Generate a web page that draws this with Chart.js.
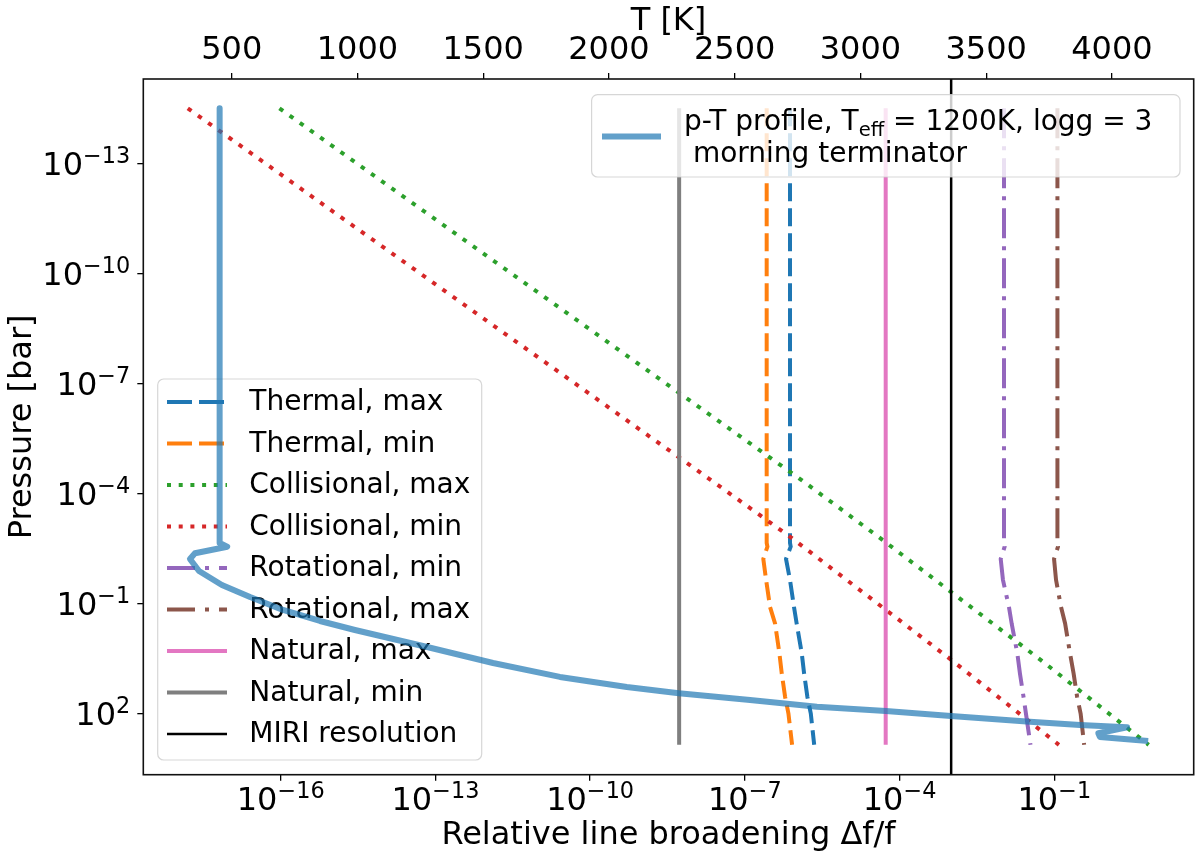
<!DOCTYPE html>
<html>
<head>
<meta charset="utf-8">
<script src="https://cdn.jsdelivr.net/npm/chart.js@4.4.1/dist/chart.umd.min.js"></script>
<style>
html,body{margin:0;padding:0;background:#fff;}
canvas{display:block;}
</style>
</head>
<body>
<canvas id="c" width="1200" height="862"></canvas>
<script>
// ---------------- data ----------------
// p-T profile (top axis, temperature in K) vs pressure in bar
const pProfile = [3.16e-15, 2.26e-3, 2.86e-3, 4.33e-3, 6.19e-3, 0.0132, 0.0317, 0.0673, 0.152, 0.304, 0.535, 1.56, 4.25, 10.2, 19.2, 28.5, 43.4, 66.1, 86.5, 119, 169, 208, 241, 351, 443, 569];
const tProfile = [452, 452, 482, 354, 334, 370, 461, 573, 704, 851, 990, 1277, 1539, 1805, 2071, 2278, 2561, 2827, 3101, 3360, 3674, 3873, 4060, 3946, 3952, 4144];

// broadening curves (relative line broadening) on a shared pressure grid
const pLines = [3.16e-15, 2.26e-3, 2.86e-3, 6.19e-3, 0.0229, 0.126, 0.355, 2.34, 8.3, 35.5, 102, 724];
const thermalMax = [7.50e-7, 7.50e-7, 7.74e-7, 6.28e-7, 7.50e-7, 8.97e-7, 1.01e-6, 1.27e-6, 1.41e-6, 1.63e-6, 1.90e-6, 2.21e-6];
const thermalMin = [2.65e-7, 2.65e-7, 2.74e-7, 2.28e-7, 2.58e-7, 3.08e-7, 3.85e-7, 4.68e-7, 5.20e-7, 6.03e-7, 7.00e-7, 8.24e-7];
const rotationalMin = [1.06e-2, 1.06e-2, 1.09e-2, 9.14e-3, 1.01e-2, 1.32e-2, 1.49e-2, 1.92e-2, 2.16e-2, 2.53e-2, 2.82e-2, 3.45e-2];
const rotationalMax = [0.115, 0.115, 0.118, 0.0989, 0.108, 0.135, 0.162, 0.202, 0.237, 0.277, 0.324, 0.379];

// collisional broadening
const pColl = [3.16e-15, 4.37e-5, 1.70e-3, 3.55, 724];
const collisionalMax = [9.46e-17, 1.26e-6, 4.27e-5, 0.055, 6.76];
const collisionalMin = [1.58e-18, 2.20e-8, 8.32e-7, 1.02e-3, 0.123];

// natural broadening
const pNatural = [3.16e-15, 724];
const naturalMax = [5.38e-5, 5.38e-5];
const naturalMin = [5.32e-9, 5.32e-9];

// MIRI resolution (vertical line across the whole axis)
const pMiri = [1e-17, 1e5];
const miriResolution = [1e-3, 1e-3];

// ticks
const xTickExp = [-16, -13, -10, -7, -4, -1];
const yTickExp = [-13, -10, -7, -4, -1, 2];
const tTicks = [500, 1000, 1500, 2000, 2500, 3000, 3500, 4000];

const profileLabel1a = 'p-T profile, T';
const profileLabelSub = 'eff';
const profileLabel1b = ' = 1200K, logg = 3';
const profileLabel2 = ' morning terminator';

// ---------------- helpers ----------------
const FONT = '"DejaVu Sans", sans-serif';
const pts = (xs, ps) => xs.map((v, i) => ({x: v, y: ps[i]}));
const expOf = v => Math.round(Math.log10(v));
const powText = v => '10^' + expOf(v);

const DASH = [18, 7], DOT = [4.5, 8], DASHDOT = [30, 8, 4, 8];
const LDASH = [25, 7], LDOT = [4, 7.7], LDASHDOT = [28, 10, 4, 10];

function line(label, xs, ps, color, width, dash, legendDash){
  return {label, data: pts(xs, ps), borderColor: color, borderWidth: width,
    borderDash: dash || [], legendDash: legendDash || [], showLine: true, pointRadius: 0,
    pointHoverRadius: 0, fill: false, tension: 0, borderCapStyle: 'butt', borderJoinStyle: 'miter',
    xAxisID: 'x', yAxisID: 'y'};
}

const profile = {
  label: 'p-T profile', data: pts(tProfile, pProfile), borderColor: 'rgba(31,119,180,0.7)',
  borderWidth: 6, showLine: true, pointRadius: 0, pointHoverRadius: 0, fill: false, tension: 0,
  borderJoinStyle: 'round', borderCapStyle: 'butt', xAxisID: 'xT', yAxisID: 'y'
};

const datasets = [
  profile,
  line('MIRI resolution', miriResolution, pMiri, '#000000', 2.5, [], []),
  line('Natural, min', naturalMin, pNatural, '#7f7f7f', 4, [], []),
  line('Natural, max', naturalMax, pNatural, '#e377c2', 4, [], []),
  line('Rotational, max', rotationalMax, pLines, '#8c564b', 4, DASHDOT, LDASHDOT),
  line('Rotational, min', rotationalMin, pLines, '#9467bd', 4, DASHDOT, LDASHDOT),
  line('Collisional, min', collisionalMin, pColl, '#d62728', 4, DOT, LDOT),
  line('Collisional, max', collisionalMax, pColl, '#2ca02c', 4, DOT, LDOT),
  line('Thermal, min', thermalMin, pLines, '#ff7f0e', 4, DASH, LDASH),
  line('Thermal, max', thermalMax, pLines, '#1f77b4', 4, DASH, LDASH)
];

function roundRect(ctx, x, y, w, h, r){
  ctx.beginPath();
  ctx.moveTo(x + r, y);
  ctx.arcTo(x + w, y, x + w, y + h, r);
  ctx.arcTo(x + w, y + h, x, y + h, r);
  ctx.arcTo(x, y + h, x, y, r);
  ctx.arcTo(x, y, x + w, y, r);
  ctx.closePath();
}
function legendBox(ctx, x, y, w, h){
  ctx.save();
  roundRect(ctx, x, y, w, h, 6);
  ctx.fillStyle = 'rgba(255,255,255,0.8)';
  ctx.fill();
  ctx.lineWidth = 1.2;
  ctx.strokeStyle = 'rgba(204,204,204,0.8)';
  ctx.stroke();
  ctx.restore();
}
function handle(ctx, x1, x2, y, color, w, dash){
  ctx.save();
  ctx.strokeStyle = color; ctx.lineWidth = w; ctx.setLineDash(dash || []); ctx.lineCap = 'butt';
  ctx.beginPath(); ctx.moveTo(x1, y); ctx.lineTo(x2, y); ctx.stroke();
  ctx.restore();
}

function drawLowerLegend(chart){
  const ctx = chart.ctx;
  legendBox(ctx, 157.7, 379, 324, 381);
  const items = chart.data.datasets.slice(1).reverse();
  ctx.save();
  ctx.font = '28px ' + FONT;
  ctx.textBaseline = 'middle';
  ctx.textAlign = 'left';
  items.forEach((d, i) => {
    const y = 402 + i * 41.5;
    handle(ctx, 167, 227, y, d.borderColor, d.borderWidth, d.legendDash);
    ctx.fillStyle = '#000';
    ctx.fillText(d.label, 249.3, y + 1);
  });
  ctx.restore();
}

function drawUpperLegend(chart){
  const ctx = chart.ctx;
  legendBox(ctx, 591.6, 94.6, 588.4, 82.4);
  handle(ctx, 602, 661, 136.5, 'rgba(31,119,180,0.7)', 6, []);
  ctx.save();
  ctx.fillStyle = '#000';
  ctx.textAlign = 'left';
  ctx.textBaseline = 'alphabetic';
  ctx.font = '28px ' + FONT;
  let x = 684, base = 130;
  ctx.fillText(profileLabel1a, x, base);
  x += ctx.measureText(profileLabel1a).width;
  ctx.font = '19.6px ' + FONT;
  ctx.fillText(profileLabelSub, x, base + 6);
  x += ctx.measureText(profileLabelSub).width;
  ctx.font = '28px ' + FONT;
  ctx.fillText(profileLabel1b, x, base);
  ctx.fillText(profileLabel2, 684, 162);
  ctx.restore();
}

function drawFrame(chart){
  const {ctx, chartArea: a} = chart;
  ctx.save();
  ctx.strokeStyle = '#111';
  ctx.lineWidth = 1.6;
  ctx.strokeRect(a.left, a.top, a.right - a.left, a.bottom - a.top);
  ctx.restore();
}

// power-of-ten tick labels, mathtext style: "10" with a raised, smaller exponent
function drawPow(ctx, x, baseY, exp, align){
  const base = '10', sup = String(exp).replace('-', '\u2212');
  ctx.font = '32px ' + FONT; const wb = ctx.measureText(base).width;
  ctx.font = '22.4px ' + FONT; const ws = ctx.measureText(sup).width;
  const total = wb + ws;
  const x0 = align === 'right' ? x - total : x - total / 2;
  ctx.font = '32px ' + FONT; ctx.fillText(base, x0, baseY);
  ctx.font = '22.4px ' + FONT; ctx.fillText(sup, x0 + wb, baseY - 11.7);
}
function drawTickLabels(chart){
  const {ctx, chartArea: a} = chart;
  ctx.save();
  ctx.fillStyle = '#000';
  ctx.textBaseline = 'alphabetic';
  ctx.textAlign = 'left';
  const sx = chart.scales.x, sy = chart.scales.y;
  sx.ticks.forEach(t => drawPow(ctx, sx.getPixelForValue(t.value), a.bottom + 35.3, expOf(t.value), 'center'));
  sy.ticks.forEach(t => drawPow(ctx, a.left - 13, sy.getPixelForValue(t.value) + 11.7, expOf(t.value), 'right'));
  ctx.restore();
}

const overlay = {
  id: 'overlay',
  beforeDatasetDraw(chart, args){
    if (args.index === 0) drawLowerLegend(chart);
  },
  afterDraw(chart){
    drawFrame(chart);
    drawTickLabels(chart);
    drawUpperLegend(chart);
  }
};

const tickFont = {family: FONT, size: 32, lineHeight: 1};
const gridOpts = {display: true, drawOnChartArea: false, drawTicks: true, tickLength: 6, tickWidth: 1.3, lineWidth: 1.3, color: '#000', tickColor: '#000'};

new Chart(document.getElementById('c'), {
  type: 'scatter',
  data: {datasets},
  plugins: [overlay],
  options: {
    responsive: false,
    animation: false,
    devicePixelRatio: 1,
    layout: {padding: {left: 0, right: 6.3, top: 0, bottom: 0}},
    plugins: {legend: {display: false}, tooltip: {enabled: false}},
    scales: {
      x: {
        type: 'logarithmic', position: 'bottom',
        min: Math.pow(10, -18.664), max: Math.pow(10, 1.703),
        afterBuildTicks: s => { s.ticks = xTickExp.map(e => ({value: Math.pow(10, e)})); },
        afterFit: s => { s.height = 87.3; },
        ticks: {display: false, callback: v => powText(v), font: tickFont, color: '#000', autoSkip: false},
        grid: gridOpts,
        border: {display: false},
        title: {display: true, text: 'Relative line broadening \u0394f/f', color: '#000', font: {family: FONT, size: 32, lineHeight: 1.2}, padding: {top: 0, bottom: 7}}
      },
      xT: {
        type: 'linear', position: 'top',
        min: 148.5, max: 4325,
        afterBuildTicks: s => { s.ticks = tTicks.map(v => ({value: v})); },
        afterFit: s => { s.height = 79; },
        ticks: {callback: v => String(v), font: tickFont, color: '#000', padding: 6, maxRotation: 0, autoSkip: false},
        grid: gridOpts,
        border: {display: false},
        title: {display: true, text: 'T [K]', color: '#000', font: {family: FONT, size: 32, lineHeight: 1.2}, padding: {top: 2, bottom: 0}}
      },
      y: {
        type: 'logarithmic', position: 'left', reverse: true,
        min: Math.pow(10, -15.299), max: Math.pow(10, 3.675),
        afterBuildTicks: s => { s.ticks = yTickExp.map(e => ({value: Math.pow(10, e)})); },
        afterFit: s => { s.width = 143.3; },
        ticks: {display: false, callback: v => powText(v), font: tickFont, color: '#000', autoSkip: false},
        grid: gridOpts,
        border: {display: false},
        title: {display: true, text: 'Pressure [bar]', color: '#000', font: {family: FONT, size: 32, lineHeight: 1.2}, padding: {top: 3, bottom: 0}}
      }
    }
  }
});
</script>
</body>
</html>
